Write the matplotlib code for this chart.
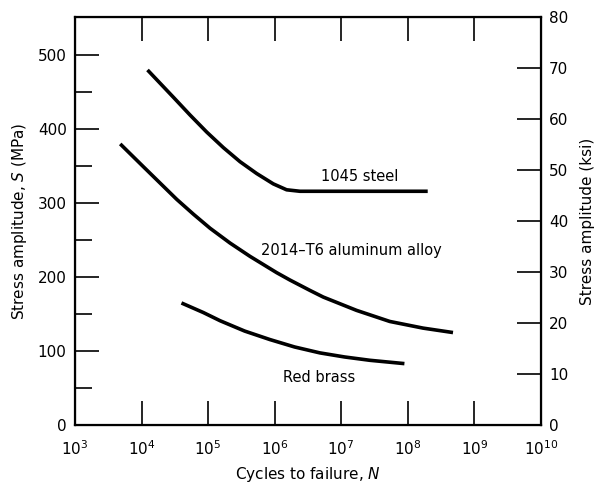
import numpy as np
import matplotlib.pyplot as plt

# S-N curves (cycles as log10 N, stress in MPa)
steel_logN = [4.09, 4.48, 4.73, 4.98, 5.23, 5.48, 5.73, 5.98, 6.18, 6.38, 8.30]
steel_S = [480, 443, 419, 396, 375, 356, 340, 326, 318, 316, 316]

alu_logN = [3.68, 4.03, 4.28, 4.53, 4.78, 5.03, 5.33, 5.63, 6.03, 6.23, 6.53,
            6.73, 7.23, 7.73, 8.23, 8.68]
alu_S = [380, 349, 327, 305, 285, 266, 246, 228, 206, 196, 182,
         173, 155, 140, 131, 125]

brass_logN = [4.60, 4.93, 5.18, 5.55, 5.93, 6.30, 6.68, 7.05, 7.43, 7.95]
brass_S = [165, 152, 141, 127, 115.5, 105.5, 97.5, 92, 87.5, 83]

xticks = [1e3, 1e4, 1e5, 1e6, 1e7, 1e8, 1e9, 1e10]
xticklabels = [r'$10^{%d}$' % i for i in range(3, 11)]
mpa_ticks = [0, 100, 200, 300, 400, 500]
ksi_ticks = [0, 10, 20, 30, 40, 50, 60, 70, 80]

KSI_TO_MPA = 6.895

plt.rcParams['font.family'] = 'DejaVu Sans'
plt.rcParams['mathtext.fontset'] = 'dejavusans'

fig = plt.figure(figsize=(5.95, 4.86), dpi=100)
ax = fig.add_axes([0.126, 0.1255, 0.783, 0.8395])

lw = 2.6
for logN, S in [(steel_logN, steel_S), (alu_logN, alu_S), (brass_logN, brass_S)]:
    ax.plot(10 ** np.array(logN), S, color='black', lw=lw,
            solid_capstyle='butt', solid_joinstyle='round')

ax.set_xscale('log')
ax.set_xlim(1e3, 1e10)
ax.set_ylim(0, 80 * KSI_TO_MPA)
ax.set_xticks(xticks)
ax.set_xticklabels(xticklabels, fontsize=11)
ax.xaxis.set_minor_locator(plt.NullLocator())
ax.set_yticks(mpa_ticks)
ax.set_yticks([50, 150, 250, 350, 450], minor=True)
ax.tick_params(axis='y', which='major', direction='in', length=17, width=1.2, labelsize=11, pad=6)
ax.tick_params(axis='y', which='minor', direction='in', length=12, width=1.2)
ax.tick_params(axis='x', which='major', direction='in', length=17, width=1.2, labelsize=11,
               top=True, pad=10)

for sp in ax.spines.values():
    sp.set_linewidth(1.6)

ax.set_xlabel('Cycles to failure, $N$', fontsize=11, labelpad=5)
ax.set_ylabel('Stress amplitude, $S$ (MPa)', fontsize=11, labelpad=6)

ax2 = ax.twinx()
ax2.set_ylim(0, 80)
ax2.set_yticks(ksi_ticks)
ax2.tick_params(axis='y', direction='in', length=17, width=1.2, labelsize=11, pad=6)
ax2.set_ylabel('Stress amplitude (ksi)', fontsize=11, labelpad=8)

ax.text(10 ** 6.7, 336, '1045 steel', fontsize=10.5, ha='left', va='center')
ax.text(10 ** 5.8, 236, '2014\u2013T6 aluminum alloy', fontsize=10.5, ha='left', va='center')
ax.text(10 ** 6.12, 64, 'Red brass', fontsize=10.5, ha='left', va='center')

fig.savefig('out.png', dpi=100)
